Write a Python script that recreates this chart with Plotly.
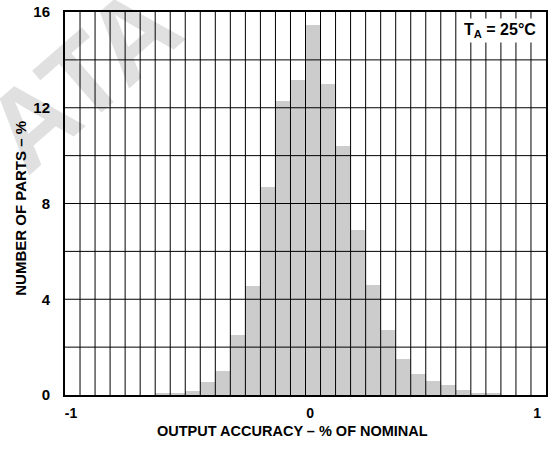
import numpy as np
import plotly.graph_objects as go

# Histogram: percent of parts per output-accuracy bin (32 bins from -1 % to +1 %)
bin_edges = np.linspace(-1.0, 1.0, 33)
bin_centers = (bin_edges[:-1] + bin_edges[1:]) / 2
parts_pct = [0, 0, 0, 0, 0, 0, 0.1, 0.1, 0.15, 0.55, 1.0, 2.52, 4.57, 8.7,
             12.27, 13.18, 15.44, 13.0, 10.42, 6.9, 4.6, 2.72, 1.5, 0.88,
             0.59, 0.42, 0.21, 0.1, 0.1, 0, 0, 0]

y_tick_vals = [0, 4, 8, 12, 16]
y_grid_vals = list(range(2, 16, 2))
x_tick_vals = [-0.975, 0.019, 0.963]
x_tick_text = ["-1", "0", "1"]

FONT = "Liberation Sans, Arial, Helvetica, sans-serif"

fig = go.Figure()
fig.add_trace(go.Bar(
    x=bin_centers, y=parts_pct, width=bin_edges[1] - bin_edges[0],
    marker=dict(color="#cccccc", line=dict(width=0)),
    hoverinfo="skip",
))

shapes = []
# watermark (below grid)
shapes.append(dict(
    type="rect", xref="paper", yref="paper", x0=-0.014, x1=0.056, y0=0.824, y1=0.874,
    line=dict(width=0), fillcolor="rgba(0,0,0,0)", layer="below",
    label=dict(text="<b>ATA</b>", textangle=-41, textposition="middle center",
               font=dict(family=FONT, size=112, color="#e0e0e0")),
))
for xe in bin_edges[1:-1]:
    shapes.append(dict(type="line", xref="x", yref="paper", x0=xe, x1=xe, y0=0, y1=1,
                       line=dict(color="black", width=1), layer="above"))
for yg in y_grid_vals:
    shapes.append(dict(type="line", xref="paper", yref="y", x0=0, x1=1, y0=yg, y1=yg,
                       line=dict(color="black", width=1), layer="above"))

fig.update_layout(
    width=553, height=449,
    margin=dict(l=65, r=7, t=12, b=54, autoexpand=False),
    paper_bgcolor="white", plot_bgcolor="white",
    bargap=0, showlegend=False,
    font=dict(family=FONT, color="black"),
    shapes=shapes,
    xaxis=dict(
        range=[-1.0, 1.0], showgrid=False, zeroline=False, automargin=False,
        showline=True, mirror=True, linecolor="black", linewidth=2,
        tickvals=x_tick_vals, ticktext=["<b>%s</b>" % t for t in x_tick_text],
        ticks="outside", ticklen=4, tickcolor="rgba(0,0,0,0)",
        tickfont=dict(size=14),
        layer="above traces", fixedrange=True,
    ),
    yaxis=dict(
        range=[0, 16], showgrid=False, zeroline=False, automargin=False,
        showline=True, mirror=True, linecolor="black", linewidth=2,
        tickvals=y_tick_vals, ticktext=["<b>%d</b>" % v for v in y_tick_vals],
        ticks="outside", ticklen=10, tickcolor="rgba(0,0,0,0)",
        tickfont=dict(size=15),
        layer="above traces", fixedrange=True,
    ),
    annotations=[
        dict(
            xref="paper", yref="paper", x=0.985, y=0.985, xanchor="right", yanchor="top",
            text="<b>T<sub>A</sub> = 25°C</b>", showarrow=False,
            font=dict(size=16, color="black"), bgcolor="white", borderpad=2,
        ),
        dict(
            xref="paper", yref="paper", x=0.472, y=-0.095, xanchor="center", yanchor="middle",
            text="<b>OUTPUT ACCURACY – % OF NOMINAL</b>", showarrow=False,
            font=dict(size=14.5, color="black"),
        ),
        dict(
            xref="paper", yref="paper", x=-0.093, y=0.487, xanchor="center", yanchor="middle",
            text="<b>NUMBER OF PARTS – %</b>", showarrow=False, textangle=-90,
            font=dict(size=15, color="black"),
        ),
    ],
)

fig.write_html(
    "out.html",
    config={"displayModeBar": False},
    post_script="document.body.style.margin='0';document.body.style.overflow='hidden';",
)
